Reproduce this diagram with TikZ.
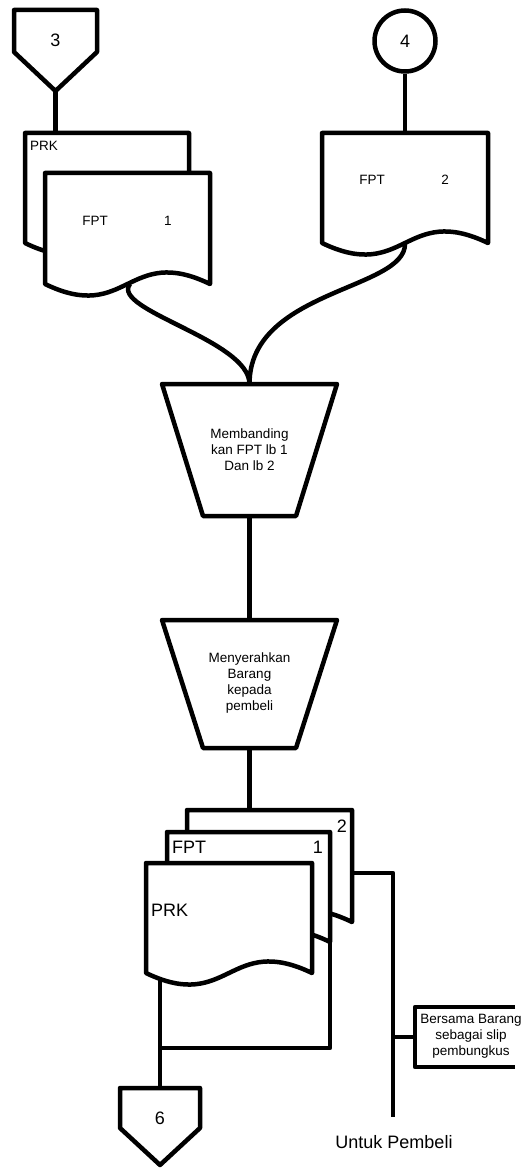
\documentclass[tikz,border=0pt]{standalone}
\usepackage{fontspec}
\setmainfont{Liberation Sans}
\begin{document}
\begin{tikzpicture}[x=1pt,y=-1pt,
  shp/.style={draw=black, line width=4.5pt, line join=round, fill=white},
  flow/.style={draw=black, line width=4.5pt, line join=round},
  lbl/.style={inner sep=0pt, font=\fontsize{13.5}{16}\selectfont, align=center},
  big/.style={inner sep=0pt, font=\fontsize{18}{21}\selectfont, align=center}]
\useasboundingbox (0,0) rectangle (529,1169);

% ---------- named connection points ----------
\coordinate (c3) at (55.5,91);
\coordinate (prkTop) at (55.5,133);
\coordinate (f1b) at (130,284);
\coordinate (f2t) at (405,133);
\coordinate (f2b) at (405,244);
\coordinate (t1top) at (249.5,384);
\coordinate (t1bot) at (249.5,516);
\coordinate (t2top) at (249.5,620);
\coordinate (t2bot) at (249.5,748);
\coordinate (bTop) at (249.5,810);
\coordinate (frontB) at (160,970);
\coordinate (c6top) at (160,1088);
\coordinate (midB) at (330,942);
\coordinate (j6) at (160,1048);
\coordinate (backR) at (352,873);
\coordinate (rEnd) at (393,1117);
\coordinate (rBr) at (393,1037);
\coordinate (ann) at (415,1037);

% ---------- connectors (drawn first, shapes cover their ends) ----------
\draw[flow] (c3) -- (prkTop);
\draw[flow] (f1b) .. controls (110,310) and (249.5,340) .. (t1top);
\draw[flow] (f2b) .. controls (405,290) and (249.5,290) .. (t1top);
\draw[flow] (t1bot) -- (t2top);
\draw[flow] (t2bot) -- (bTop);
\draw[flow] (frontB) -- (c6top);
\draw[flow] (midB) -- (330,1048) -- (j6);
\draw[flow] (backR) -- (393,873) -- (rEnd);
\draw[flow] (rBr) -- (ann);

% ---------- off-page connector 3 ----------
\draw[shp] (14,10) -- (97,10) -- (97,52) -- (c3) -- (14,52) -- cycle;
\node[big] (n3) at (55.5,40) {3};

% ---------- on-page connector 4 ----------
\node[shp, circle, minimum size=61pt, inner sep=0pt, font=\fontsize{18}{21}\selectfont] (n4) at (405,41) {4};
\draw[flow] (n4.south) -- (f2t);

% ---------- documents PRK / FPT 1 ----------
\draw[shp] (25,133) -- (189,133) -- (189,243) .. controls (107,203) and (107,283) .. (25,243) -- cycle;
\node[lbl, anchor=west] (prkA) at (30,145.5) {PRK};
\draw[shp] (45,173) -- (210,173) -- (210,284) .. controls (127.5,244) and (127.5,324) .. (45,284) -- cycle;
\node[lbl] (fptA) at (95,221) {FPT};
\node[lbl] (oneA) at (168,221) {1};

% ---------- document FPT 2 ----------
\draw[shp] (322,133) -- (488,133) -- (488,243) .. controls (405,203) and (405,283) .. (322,243) -- cycle;
\node[lbl] (fptB) at (372,180) {FPT};
\node[lbl] (twoB) at (445,180) {2};

% ---------- manual operations ----------
\draw[shp] (162,384) -- (337,384) -- (296,516) -- (203,516) -- cycle;
\node[lbl] (op1) at (249.5,450) {Membanding\\kan FPT lb 1\\Dan lb 2};
\draw[shp] (162,620) -- (337,620) -- (296,748) -- (203,748) -- cycle;
\node[lbl] (op2) at (249.5,683) {Menyerahkan\\Barang\\kepada\\pembeli};

% ---------- bottom document stack ----------
\draw[shp] (187,810) -- (352,810) -- (352,922) .. controls (269.5,882) and (269.5,962) .. (187,922) -- cycle;
\node[big] (twoC) at (342,826) {2};
\draw[shp] (167,832) -- (330,832) -- (330,942) .. controls (248.5,902) and (248.5,982) .. (167,942) -- cycle;
\node[big, anchor=west] (fptC) at (172,847) {FPT};
\node[big] (oneC) at (318,847) {1};
\draw[shp] (146,863) -- (312,863) -- (312,973) .. controls (229,933) and (229,1013) .. (146,973) -- cycle;
\node[big, anchor=west] (prkC) at (151,910) {PRK};

% ---------- off-page connector 6 ----------
\draw[shp] (120,1088) -- (200,1088) -- (200,1128) -- (160,1165) -- (120,1128) -- cycle;
\node[big] (n6) at (160,1118) {6};

% ---------- annotation ----------
\draw[flow] (515,1007) -- (415,1007) -- (415,1067) -- (515,1067);
\node[lbl] (note) at (471,1036) {Bersama Barang\\sebagai slip\\pembungkus};
\node[big] (buyer) at (394,1142) {Untuk Pembeli};
\end{tikzpicture}
\end{document}
